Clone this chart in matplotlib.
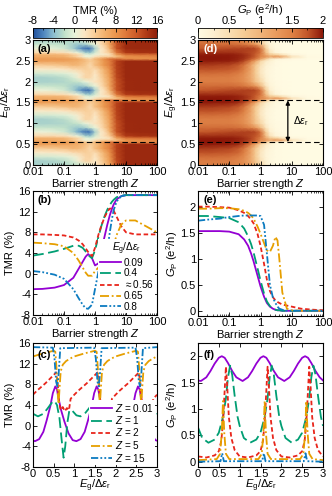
import numpy as np
import matplotlib
matplotlib.use("Agg")
import matplotlib.pyplot as plt
from matplotlib.colors import LinearSegmentedColormap
from matplotlib.ticker import MultipleLocator, FuncFormatter, LogLocator, NullFormatter

plt.rcParams["font.family"] = ["Liberation Sans", "DejaVu Sans"]
plt.rcParams["mathtext.fontset"] = "custom"
plt.rcParams["mathtext.rm"] = "Liberation Sans"
plt.rcParams["mathtext.it"] = "Liberation Sans:italic"
plt.rcParams["mathtext.bf"] = "Liberation Sans:bold"
plt.rcParams["axes.unicode_minus"] = False
plt.rcParams["font.size"] = 8

EG_LABEL = r"$E_\mathrm{g}/\Delta\varepsilon_\mathrm{r}$"
Z_LABEL = r"Barrier strength $Z$"
GP_LABEL = r"$G_\mathrm{P}$ (e$^2$/h)"

# ── Heat maps: one period in E_g (pattern repeats every Δε_r) ─────────────────
HM_Z = [0.01, 0.03, 0.1, 0.2, 0.3, 0.5, 0.7, 1, 1.5, 2, 3, 5, 10, 30, 100]
HM_PHASE = [0.0, 0.1, 0.2, 0.3, 0.4, 0.5, 0.55, 0.6, 0.65, 0.7, 0.8, 0.9]
TMR_MAP = [
    [-2.8, -2.8, -2.5, -2.0, -1.5, 0.0, 1.0, 2.2, 3.0, 4.5, 7.0, 12.5, 15.0, 15.2, 15.2],
    [-3.0, -2.8, -2.2, -0.8, 1.0, 3.3, 3.0, 1.6, 3.5, 5.0, 7.5, 13.0, 15.2, 15.2, 15.2],
    [-1.0, -0.9, -0.5, 0.5, 1.5, 3.2, 3.5, 2.0, 4.0, 5.5, 8.0, 13.2, 15.2, 15.2, 15.2],
    [1.5, 1.6, 2.0, 2.8, 3.2, 3.8, 3.5, 2.8, 4.5, 6.0, 8.5, 13.4, 15.2, 15.2, 15.2],
    [3.8, 4.0, 4.8, 5.5, 5.3, 4.2, 3.0, 5.0, 6.5, 8.0, 9.5, 13.5, 15.2, 15.2, 15.2],
    [7.2, 7.2, 7.0, 6.5, 6.0, 5.0, 4.0, 4.8, 6.5, 8.0, 9.5, 13.5, 15.2, 15.2, 15.2],
    [7.6, 7.6, 7.5, 7.0, 6.5, 4.5, 3.5, 5.5, 7.0, 8.5, 10.5, 11.0, 9.0, 8.5, 8.5],
    [6.5, 6.5, 6.0, 4.5, 3.0, 0.5, 0.5, 2.5, 3.5, 4.0, 4.0, 5.0, 8.0, 8.5, 9.0],
    [6.0, 5.8, 5.5, 4.0, 3.0, 0.0, -0.5, 0.5, 1.3, 1.5, 2.5, 7.0, 10.0, 10.5, 10.5],
    [3.0, 3.0, 2.5, 1.0, 0.0, -3.0, -3.5, -1.0, 1.5, 2.5, 4.0, 10.0, 14.0, 14.5, 14.5],
    [0.5, 0.2, -1.0, -3.0, -5.0, -6.7, -6.5, -3.0, 1.5, 2.5, 6.0, 12.5, 15.0, 15.2, 15.2],
    [-1.5, -1.6, -2.0, -3.0, -3.5, -3.0, -1.5, 0.0, 2.5, 4.0, 7.0, 12.5, 15.0, 15.2, 15.2],
]
GP_MAP = [
    [1.53, 1.53, 1.52, 1.47, 1.38, 1.15, 0.85, 0.60, 0.25, 0.10, 0.04, 0.02, 0, 0, 0],
    [1.53, 1.53, 1.52, 1.45, 1.35, 1.10, 0.80, 0.48, 0.20, 0.08, 0.03, 0.01, 0, 0, 0],
    [1.62, 1.62, 1.60, 1.52, 1.40, 1.10, 0.75, 0.38, 0.15, 0.08, 0.03, 0.01, 0, 0, 0],
    [1.77, 1.77, 1.74, 1.65, 1.50, 1.15, 0.75, 0.38, 0.15, 0.09, 0.03, 0.01, 0, 0, 0],
    [1.86, 1.85, 1.82, 1.72, 1.57, 1.15, 0.78, 0.45, 0.20, 0.12, 0.04, 0.01, 0, 0, 0],
    [1.97, 1.97, 1.96, 1.90, 1.80, 1.50, 1.15, 0.62, 0.30, 0.20, 0.05, 0.02, 0, 0, 0],
    [2.00, 2.00, 1.98, 1.93, 1.88, 1.72, 1.55, 1.20, 0.70, 0.35, 0.15, 0.08, 0.04, 0.02, 0],
    [2.00, 2.00, 1.98, 1.94, 1.90, 1.80, 1.70, 1.45, 1.30, 1.10, 1.30, 1.10, 0.45, 0.05, 0],
    [1.97, 1.97, 1.97, 1.94, 1.90, 1.82, 1.70, 1.50, 1.10, 0.80, 0.70, 0.45, 0.12, 0.02, 0],
    [1.90, 1.90, 1.90, 1.88, 1.85, 1.80, 1.75, 1.60, 0.90, 0.45, 0.15, 0.05, 0.01, 0, 0],
    [1.73, 1.76, 1.80, 1.82, 1.83, 1.83, 1.80, 1.60, 0.70, 0.25, 0.08, 0.03, 0, 0, 0],
    [1.62, 1.62, 1.62, 1.60, 1.55, 1.45, 1.30, 0.95, 0.40, 0.15, 0.05, 0.02, 0, 0, 0],
]
DASH_EG = [0.55, 1.55]

# ── Panels (b), (e): vs barrier strength Z ────────────────────────────────────
Z_LINE = [0.01, 0.02, 0.05, 0.1, 0.2, 0.3, 0.4, 0.5, 0.6, 0.8, 1.0, 1.3, 1.6,
          2.0, 2.5, 3.0, 3.5, 4.0, 5.0, 7.0, 10, 20, 50, 100]
EG_NAMES = ["0.09", "0.4", r"$\approx$0.56", "0.65", "0.8"]
TMR_Z = [
    [-3.0, -2.95, -2.7, -2.2, -0.8, 1.0, 2.3, 3.3, 3.8, 3.0, 1.6, 2.0, 4.5,
     7.0, 9.5, 11.3, 12.5, 13.4, 14.4, 15.0, 15.2, 15.2, 15.2, 15.2],
    [3.5, 3.8, 4.3, 4.8, 5.4, 5.4, 5.0, 4.3, 3.6, 3.0, 4.5, 7.2, 9.2,
     11.0, 12.4, 13.3, 13.9, 14.3, 14.8, 15.1, 15.2, 15.2, 15.2, 15.2],
    [7.6, 7.6, 7.5, 7.4, 7.0, 6.4, 5.7, 4.9, 4.2, 3.4, 5.0, 7.6, 9.3,
     10.8, 12.0, 12.6, 12.6, 12.2, 11.0, 9.2, 8.0, 7.6, 7.6, 7.6],
    [6.0, 5.9, 5.7, 5.3, 4.0, 2.5, 1.2, 0.2, -0.4, -0.4, 0.5, 1.2, 1.4,
     1.5, 1.6, 2.5, 4.0, 5.5, 7.5, 9.5, 10.3, 10.3, 9.0, 8.0],
    [0.5, 0.3, -0.2, -1.0, -3.0, -4.8, -6.0, -6.7, -6.8, -6.0, -3.0, 0.5, 2.7,
     2.6, 4.5, 8.0, 10.5, 12.3, 14.0, 15.0, 15.2, 15.2, 15.2, 15.2],
]
GP_Z = [
    [1.53, 1.53, 1.53, 1.52, 1.47, 1.37, 1.25, 1.10, 0.95, 0.68, 0.47, 0.27, 0.15,
     0.08, 0.04, 0.02, 0.01, 0.01, 0, 0, 0, 0, 0, 0],
    [1.82, 1.82, 1.80, 1.78, 1.70, 1.58, 1.43, 1.28, 1.12, 0.82, 0.58, 0.33, 0.18,
     0.09, 0.04, 0.02, 0.01, 0.01, 0, 0, 0, 0, 0, 0],
    [2.00, 2.00, 1.99, 1.98, 1.93, 1.88, 1.82, 1.75, 1.68, 1.48, 1.25, 0.90, 0.60,
     0.38, 0.26, 0.20, 0.17, 0.15, 0.12, 0.10, 0.08, 0.04, 0.02, 0.01],
    [1.96, 1.96, 1.97, 1.97, 1.95, 1.92, 1.88, 1.83, 1.77, 1.62, 1.48, 1.30, 1.16,
     1.13, 1.25, 1.42, 1.35, 1.00, 0.35, 0.04, 0.01, 0, 0, 0],
    [1.73, 1.75, 1.77, 1.80, 1.82, 1.83, 1.83, 1.83, 1.83, 1.83, 1.82, 1.65, 1.10,
     0.50, 0.25, 0.15, 0.08, 0.04, 0.02, 0, 0, 0, 0, 0],
]

# ── Panel (c): TMR vs E_g/Δε_r for several Z ──────────────────────────────────
Z_NAMES = ["0.01", "1", "2", "5", "15"]
C_X = [
    [0, 0.05, 0.15, 0.25, 0.33, 0.42, 0.48, 0.54, 0.58, 0.62, 0.68, 0.76, 0.86, 0.96,
     1.05, 1.15, 1.25, 1.33, 1.42, 1.48, 1.54, 1.58, 1.62, 1.68, 1.76, 1.86, 1.96,
     2.05, 2.15, 2.25, 2.33, 2.42, 2.48, 2.54, 2.58, 2.62, 2.68, 2.76, 2.86, 2.96, 3.0],
    [0, 0.12, 0.25, 0.35, 0.45, 0.52, 0.58, 0.64, 0.69, 0.74, 0.78, 0.83, 0.88, 0.95,
     1.05, 1.15, 1.25, 1.35, 1.45, 1.52, 1.58, 1.64, 1.7, 1.76, 1.82, 1.9, 1.97,
     2.05, 2.15, 2.25, 2.35, 2.45, 2.52, 2.58, 2.64, 2.7, 2.76, 2.82, 2.9, 2.97, 3.0],
    [0, 0.1, 0.2, 0.3, 0.4, 0.5, 0.56, 0.6, 0.63, 0.67, 0.72, 0.77, 0.82, 0.87, 0.91,
     1.0, 1.1, 1.2, 1.3, 1.4, 1.5, 1.56, 1.6, 1.63, 1.67, 1.72, 1.77, 1.82, 1.87, 1.91,
     2.0, 2.1, 2.2, 2.3, 2.4, 2.5, 2.56, 2.6, 2.63, 2.67, 2.72, 2.77, 2.82, 2.87, 2.91, 3.0],
    [0, 0.25, 0.5, 0.54, 0.57, 0.6, 0.62, 0.64, 0.67, 0.72, 0.8, 0.9,
     1.0, 1.25, 1.5, 1.54, 1.57, 1.6, 1.62, 1.64, 1.67, 1.72, 1.8, 1.9,
     2.0, 2.25, 2.5, 2.54, 2.57, 2.6, 2.62, 2.64, 2.67, 2.72, 2.8, 2.9, 3.0],
    [0, 0.48, 0.52, 0.56, 0.59, 0.62, 0.66, 1.48, 1.52, 1.56, 1.59, 1.62, 1.66,
     2.48, 2.52, 2.56, 2.59, 2.62, 2.66, 3.0],
]
C_Y = [
    [-2.9, -3.0, -2.6, -1.2, 1.0, 3.8, 6.3, 7.6, 7.0, 5.2, 3.0, 0.8, -1.5, -2.8,
     -3.0, -2.6, -1.2, 1.0, 3.8, 6.3, 7.6, 7.0, 5.2, 3.0, 0.8, -1.5, -2.8,
     -3.0, -2.6, -1.2, 1.0, 3.8, 6.3, 7.6, 7.0, 5.2, 3.0, 0.8, -1.5, -2.8, -2.9],
    [2.3, 1.8, 2.3, 3.3, 4.4, 4.8, 4.0, 1.5, -2.5, -6.2, -4.0, 0.5, 3.0, 2.9,
     2.0, 1.8, 2.3, 3.3, 4.4, 4.8, 4.2, 3.0, 2.6, 3.0, 3.6, 3.2, 2.5,
     2.0, 1.8, 2.3, 3.3, 4.4, 4.8, 4.2, 3.0, 2.6, 3.0, 3.6, 3.2, 2.5, 2.3],
    [6.0, 6.8, 7.5, 8.2, 9.0, 9.8, 10.3, 8.0, 4.5, 3.0, 3.6, 2.8, 3.4, 3.0, 5.2,
     6.0, 6.8, 7.5, 8.2, 9.0, 9.8, 10.3, 8.0, 4.5, 3.0, 3.6, 2.8, 3.4, 3.0, 5.2,
     6.0, 6.8, 7.5, 8.2, 9.0, 9.8, 10.3, 8.0, 4.5, 3.0, 3.6, 2.8, 3.4, 3.0, 5.2, 6.0],
    [13.4, 14.0, 14.5, 14.3, 11.0, 6.0, 4.2, 7.0, 10.5, 11.8, 12.5, 13.0,
     13.4, 14.0, 14.5, 14.3, 11.0, 6.0, 4.2, 7.0, 10.5, 11.8, 12.5, 13.0,
     13.4, 14.0, 14.5, 14.3, 11.0, 6.0, 4.2, 7.0, 10.5, 11.8, 12.5, 13.0, 13.4],
    [15.2, 15.1, 13.0, 8.5, 7.6, 10.0, 15.0, 15.1, 13.0, 8.5, 7.6, 10.0, 15.0,
     15.1, 13.0, 8.5, 7.6, 10.0, 15.0, 15.2],
]

# ── Panel (f): G_P vs E_g/Δε_r for several Z ──────────────────────────────────
F_X = [
    [0, 0.07, 0.2, 0.3, 0.4, 0.5, 0.57, 0.64, 0.72, 0.82, 0.92,
     1.07, 1.2, 1.3, 1.4, 1.5, 1.57, 1.64, 1.72, 1.82, 1.92,
     2.07, 2.2, 2.3, 2.4, 2.5, 2.57, 2.64, 2.72, 2.82, 2.92, 3.0],
    [0, 0.1, 0.25, 0.4, 0.5, 0.6, 0.67, 0.72, 0.77, 0.82, 0.88, 0.95,
     1.0, 1.1, 1.25, 1.4, 1.5, 1.6, 1.67, 1.72, 1.77, 1.82, 1.88, 1.95,
     2.0, 2.1, 2.25, 2.4, 2.5, 2.6, 2.67, 2.72, 2.77, 2.82, 2.88, 2.95, 3.0],
    [0, 0.2, 0.4, 0.5, 0.56, 0.6, 0.64, 0.67, 0.7, 0.74, 0.8, 0.88,
     1.0, 1.2, 1.4, 1.5, 1.56, 1.6, 1.64, 1.67, 1.7, 1.74, 1.8, 1.88,
     2.0, 2.2, 2.4, 2.5, 2.56, 2.6, 2.64, 2.67, 2.7, 2.74, 2.8, 2.88, 3.0],
    [0, 0.45, 0.53, 0.57, 0.6, 0.63, 0.67, 0.75,
     1.45, 1.53, 1.57, 1.6, 1.63, 1.67, 1.75,
     2.45, 2.53, 2.57, 2.6, 2.63, 2.67, 2.75, 3.0],
    [0, 0.54, 0.58, 0.62, 1.54, 1.58, 1.62, 2.54, 2.58, 2.62, 3.0],
]
F_Y = [
    [1.54, 1.53, 1.6, 1.72, 1.86, 1.97, 2.0, 1.97, 1.87, 1.72, 1.6,
     1.53, 1.6, 1.72, 1.86, 1.97, 2.0, 1.97, 1.87, 1.72, 1.6,
     1.53, 1.6, 1.72, 1.86, 1.97, 2.0, 1.97, 1.87, 1.72, 1.6, 1.54],
    [0.65, 0.45, 0.36, 0.42, 0.55, 0.85, 1.2, 1.6, 1.82, 1.65, 1.25, 0.85,
     0.68, 0.45, 0.36, 0.42, 0.55, 0.85, 1.2, 1.6, 1.82, 1.65, 1.25, 0.85,
     0.68, 0.45, 0.36, 0.42, 0.55, 0.85, 1.2, 1.6, 1.82, 1.65, 1.25, 0.85, 0.68],
    [0.1, 0.08, 0.12, 0.2, 0.4, 0.75, 1.35, 1.8, 1.45, 0.85, 0.45, 0.22,
     0.1, 0.08, 0.12, 0.2, 0.4, 0.75, 1.35, 1.8, 1.45, 0.85, 0.45, 0.22,
     0.1, 0.08, 0.12, 0.2, 0.4, 0.75, 1.35, 1.8, 1.45, 0.85, 0.45, 0.22, 0.1],
    [0.03, 0.05, 0.15, 0.55, 1.15, 0.55, 0.15, 0.05,
     0.05, 0.15, 0.55, 1.15, 0.55, 0.15, 0.05,
     0.05, 0.15, 0.55, 1.15, 0.55, 0.15, 0.05, 0.03],
    [0, 0.01, 0.16, 0.01, 0.01, 0.16, 0.01, 0.01, 0.16, 0.01, 0],
]

COLORS = ["#9400D3", "#009E73", "#E8251B", "#E69F00", "#0C7BC0"]
DASHES = [None, (6, 2.5), (2.5, 1.5), (5, 1.5, 1, 1.5), (4, 1.2, 1, 1.2, 1, 1.2)]

TMR_CMAP = LinearSegmentedColormap.from_list("tmr", [
    (0 / 24, "#1f4e9a"), (2 / 24, "#4f86bf"), (4 / 24, "#8dbfcf"),
    (6 / 24, "#bfe0c9"), (8 / 24, "#e8f3da"), (10 / 24, "#fce6c4"),
    (12 / 24, "#f8cc96"), (14 / 24, "#f2b06c"), (16 / 24, "#ea964e"),
    (18 / 24, "#de783a"), (20 / 24, "#cc5a28"), (22 / 24, "#b03a16"),
    (24 / 24, "#8e1e0a")])
GP_CMAP = LinearSegmentedColormap.from_list("gp", [
    (0.0, "#fffbe3"), (0.125, "#fdefcf"), (0.25, "#f9deb2"), (0.375, "#f5cb94"),
    (0.5, "#f0b47a"), (0.625, "#e99b5e"), (0.75, "#de8246"), (0.875, "#c4582a"),
    (1.0, "#8a1608")])

# ── Figure ────────────────────────────────────────────────────────────────────
W, H = 332, 496
fig = plt.figure(figsize=(W / 100, H / 100), dpi=100)


def box(x0, y0, x1, y1):
    return fig.add_axes([x0 / W, 1 - y1 / H, (x1 - x0) / W, (y1 - y0) / H])


fmt_g = FuncFormatter(lambda v, p: f"{v:g}")


def style(ax):
    ax.tick_params(which="both", direction="in", top=True, right=True,
                   labelsize=8, pad=1.5)
    ax.tick_params(which="major", length=3, width=0.6)
    ax.tick_params(which="minor", length=1.6, width=0.5)
    for s in ax.spines.values():
        s.set_linewidth(0.8)


def labels(ax, xl, yl, xpos=-0.095):
    ax.set_xlabel(xl, fontsize=8)
    ax.set_ylabel(yl, fontsize=8)
    ax.xaxis.set_label_coords(0.5, xpos)
    ax.yaxis.set_label_coords(-0.145, 0.5)


def log_x(ax):
    ax.set_xscale("log")
    ax.set_xlim(0.01, 100)
    ax.xaxis.set_major_locator(LogLocator(base=10, numticks=10))
    ax.xaxis.set_minor_locator(LogLocator(base=10, subs=np.arange(2, 10), numticks=10))
    ax.xaxis.set_minor_formatter(NullFormatter())
    ax.xaxis.set_major_formatter(fmt_g)


LX0, LX1, RX0, RX1 = 33, 157, 198, 323

# full E_g grid for the maps
eg_full = np.concatenate([np.array(HM_PHASE) + k for k in range(3)] + [[3.0]])
zz, ee = np.meshgrid(HM_Z, eg_full)


def heat(ax, cax, table, cmap, vmin, vmax, ticks, minor, label, tag, tagcolor):
    full = np.vstack([np.array(table)] * 3 + [np.array(table)[:1]])
    m = ax.pcolormesh(zz, ee, full, shading="gouraud", cmap=cmap, vmin=vmin, vmax=vmax)
    log_x(ax)
    ax.set_ylim(0, 3)
    ax.yaxis.set_major_locator(MultipleLocator(0.5))
    ax.yaxis.set_major_formatter(fmt_g)
    style(ax)
    for y in DASH_EG:
        ax.axhline(y, color="k", lw=0.8, dashes=(5, 3))
    labels(ax, Z_LABEL, EG_LABEL)
    ax.text(0.04, 0.93, tag, transform=ax.transAxes, fontweight="bold",
            fontsize=8, color=tagcolor, va="center")
    cb = fig.colorbar(m, cax=cax, orientation="horizontal", ticks=ticks)
    cb.outline.set_linewidth(0.6)
    cax.xaxis.set_ticks_position("top")
    cax.xaxis.set_label_position("top")
    cax.xaxis.set_minor_locator(MultipleLocator(minor))
    cax.xaxis.set_major_formatter(fmt_g)
    cax.tick_params(which="both", direction="in", labelsize=8, pad=1.5)
    cax.tick_params(which="major", length=3, width=0.6)
    cax.tick_params(which="minor", length=1.6, width=0.5)
    cb.set_label(label, fontsize=8, labelpad=1.5)
    return m


# (a) TMR map
ax_a = box(LX0, 40, LX1, 165)
cax_a = box(LX0, 28, LX1, 38)
heat(ax_a, cax_a, TMR_MAP, TMR_CMAP, -8, 16, [-8, -4, 0, 4, 8, 12, 16], 2,
     "TMR (%)", "(a)", "black")

# (d) G_P map
ax_d = box(RX0, 40, RX1, 165)
cax_d = box(RX0, 28, RX1, 38)
heat(ax_d, cax_d, GP_MAP, GP_CMAP, 0, 2, [0, 0.5, 1, 1.5, 2], 0.25,
     GP_LABEL, "(d)", "white")
ax_d.annotate("", xy=(7.5, DASH_EG[0]), xytext=(7.5, DASH_EG[1]),
              arrowprops=dict(arrowstyle="<|-|>", color="k", lw=0.9,
                              shrinkA=0, shrinkB=0, mutation_scale=6))
ax_d.text(11, 1.05, r"$\Delta\varepsilon_\mathrm{r}$", fontsize=7.5, va="center")


def line(ax, x, y, i, label=None):
    kw = dict(color=COLORS[i], lw=1.3, label=label)
    if DASHES[i] is not None:
        kw["dashes"] = DASHES[i]
    ax.plot(x, y, **kw)


def leg(ax, **kw):
    lg = ax.legend(loc="lower right", fontsize=7.2, frameon=True, framealpha=1,
                   facecolor="white", edgecolor="none", handlelength=2.1,
                   labelspacing=0.05, borderpad=0.15, handletextpad=0.3,
                   borderaxespad=0.2, fancybox=False, **kw)
    return lg


def panel_tag(ax, tag, y=0.93):
    ax.text(0.04, y, tag, transform=ax.transAxes, fontweight="bold",
            fontsize=8, va="center")


# (b) TMR vs Z
ax_b = box(LX0, 191, LX1, 315)
for i, name in enumerate(EG_NAMES):
    line(ax_b, Z_LINE, TMR_Z[i], i, name)
log_x(ax_b)
ax_b.set_ylim(-8, 16)
ax_b.yaxis.set_major_locator(MultipleLocator(4))
style(ax_b)
labels(ax_b, Z_LABEL, "TMR (%)")
panel_tag(ax_b, "(b)")
leg(ax_b, title=EG_LABEL, title_fontsize=7.2)

# (e) G_P vs Z
ax_e = box(RX0, 191, RX1, 316)
for i in range(5):
    line(ax_e, Z_LINE, GP_Z[i], i)
log_x(ax_e)
ax_e.set_ylim(-0.1, 2.3)
ax_e.yaxis.set_major_locator(MultipleLocator(0.5))
ax_e.yaxis.set_major_formatter(fmt_g)
style(ax_e)
labels(ax_e, Z_LABEL, GP_LABEL)
panel_tag(ax_e, "(e)")

# (c) TMR vs E_g
ax_c = box(LX0, 343, LX1, 467)
for i, name in enumerate(Z_NAMES):
    line(ax_c, C_X[i], C_Y[i], i, rf"$Z$ = {name}")
ax_c.set_xlim(0, 3)
ax_c.set_ylim(-8, 16)
ax_c.xaxis.set_major_locator(MultipleLocator(0.5))
ax_c.xaxis.set_major_formatter(fmt_g)
ax_c.yaxis.set_major_locator(MultipleLocator(4))
style(ax_c)
labels(ax_c, EG_LABEL, "TMR (%)", -0.088)
panel_tag(ax_c, "(c)", 0.9)
leg(ax_c)

# (f) G_P vs E_g
ax_f = box(RX0, 343, RX1, 467)
for i in range(5):
    line(ax_f, F_X[i], F_Y[i], i)
ax_f.set_xlim(0, 3)
ax_f.set_ylim(-0.1, 2.25)
ax_f.xaxis.set_major_locator(MultipleLocator(0.5))
ax_f.xaxis.set_major_formatter(fmt_g)
ax_f.yaxis.set_major_locator(MultipleLocator(0.5))
ax_f.yaxis.set_major_formatter(fmt_g)
style(ax_f)
labels(ax_f, EG_LABEL, GP_LABEL, -0.088)
panel_tag(ax_f, "(f)", 0.9)

fig.savefig("out.png", dpi=100)
